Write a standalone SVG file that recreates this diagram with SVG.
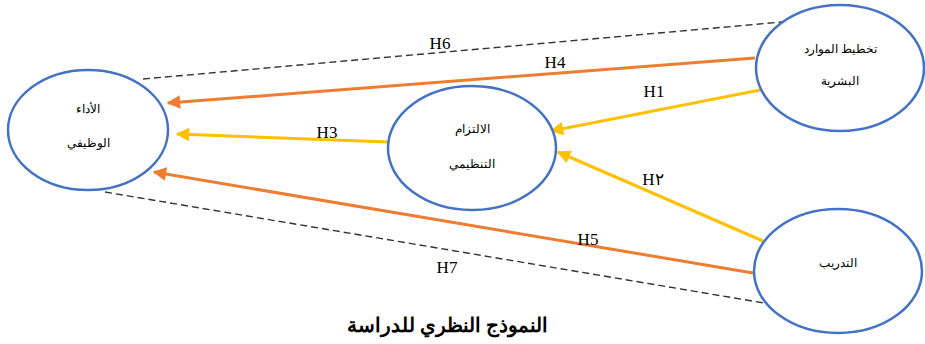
<svg xmlns="http://www.w3.org/2000/svg" width="925" height="344" viewBox="0 0 925 344">
<style>
.node{fill:#fff;stroke:#4472C4;stroke-width:2.5}
.lbl{font-family:"Liberation Serif","DejaVu Serif",serif;font-size:12px;fill:#000;text-anchor:middle}
.h{font-family:"Liberation Serif","DejaVu Serif",serif;font-size:17px;fill:#000;text-anchor:middle}
.or{stroke:#ED7D31;stroke-width:3;fill:none}
.ye{stroke:#FFC000;stroke-width:3;fill:none}
.da{stroke:#333;stroke-width:1.4;stroke-dasharray:7,4;fill:none}
.title{font-family:"Liberation Serif","DejaVu Serif",serif;font-size:20px;font-weight:bold;fill:#000;text-anchor:middle}
</style>
<defs>
<marker id="ao" viewBox="0 0 10 10" refX="9" refY="5" markerWidth="5" markerHeight="4.5" orient="auto" markerUnits="strokeWidth"><path d="M0,0 L10,5 L0,10 z" fill="#ED7D31"/></marker>
<marker id="ay" viewBox="0 0 10 10" refX="9" refY="5" markerWidth="5" markerHeight="4.5" orient="auto" markerUnits="strokeWidth"><path d="M0,0 L10,5 L0,10 z" fill="#FFC000"/></marker>
</defs>
<g id="connectors">
<line class="da" x1="143" y1="79" x2="782" y2="22"/>
<line class="da" x1="105" y1="192" x2="764" y2="303"/>
<line class="or" x1="755" y1="58" x2="168" y2="103" marker-end="url(#ao)"/>
<line class="or" x1="753" y1="273" x2="154" y2="172" marker-end="url(#ao)"/>
<line class="ye" x1="388" y1="142" x2="177" y2="134" marker-end="url(#ay)"/>
<line class="ye" x1="765" y1="89" x2="551" y2="131" marker-end="url(#ay)"/>
<line class="ye" x1="763" y1="241" x2="558" y2="152" marker-end="url(#ay)"/>
<text class="h" x="440" y="49">H6</text>
<text class="h" x="555" y="68">H4</text>
<text class="h" x="654" y="97">H1</text>
<text class="h" x="327" y="138">H3</text>
<text class="h" x="653" y="185">H٢</text>
<text class="h" x="588" y="245">H5</text>
<text class="h" x="447" y="273">H7</text>
</g>
<g id="node-performance">
<ellipse class="node" cx="88" cy="130" rx="80" ry="60"/>
<text class="lbl" x="88" y="113" direction="rtl">الأداء</text>
<text class="lbl" x="88" y="147" direction="rtl">الوظيفي</text>
</g>
<g id="node-commitment">
<ellipse class="node" cx="472" cy="148" rx="84" ry="62"/>
<text class="lbl" x="472" y="133" direction="rtl">الالتزام</text>
<text class="lbl" x="472" y="168" direction="rtl">التنظيمي</text>
</g>
<g id="node-hrp">
<ellipse class="node" cx="840" cy="68" rx="84" ry="63"/>
<text class="lbl" x="840" y="53" direction="rtl">تخطيط الموارد</text>
<text class="lbl" x="840" y="85" direction="rtl">البشرية</text>
</g>
<g id="node-training">
<ellipse class="node" cx="838" cy="271" rx="84" ry="62"/>
<text class="lbl" x="838" y="267" direction="rtl">التدريب</text>
</g>
<text class="title" x="447" y="332" direction="rtl">النموذج النظري للدراسة</text>
</svg>
